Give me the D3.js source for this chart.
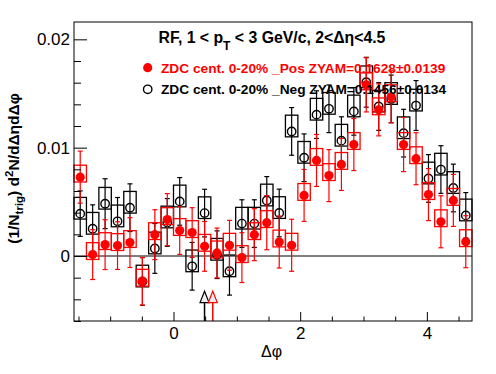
<!DOCTYPE html>
<html>
<head>
<meta charset="utf-8">
<script src="https://cdn.jsdelivr.net/npm/d3@7"></script>
<style>
  body { margin: 0; background: #fff; }
  text { font-family: "Liberation Sans", Arial, sans-serif; }
</style>
</head>
<body>
<div id="chart-area"></div>
<script>
let width = 496,
    height = 374;

const margin = ({top: 22, right: 24, bottom: 53, left: 74});

// Δφ bins: 32 bins over [-π/2, 3π/2]
const nBins = 32;
// red: ZDC cent. 0-20% _Pos
const posVal = [0.00728, 0.00013, 0.00105, 0.00096, 0.00124, -0.00233, 0.00197, 0.00336,
                0.00235, 0.00216, 0.00089, 0.00028, 0.00099, -0.00015, 0.00197, 0.00308,
                0.00129, 0.00099, 0.00559, 0.00882, 0.00742, 0.00845, 0.01029, 0.01580,
                0.01349, 0.01470, 0.01029, 0.00898, 0.00567, 0.00316, 0.00513, 0.00132];
const posErr = [0.0024, 0.0023, 0.0023, 0.0022, 0.0023, 0.0022, 0.0023, 0.0024,
                0.0022, 0.0023, 0.0023, 0.0023, 0.0023, 0.0023, 0.0024, 0.0025,
                0.0024, 0.0024, 0.0024, 0.0024, 0.0024, 0.0024, 0.0024, 0.0025,
                0.0024, 0.0024, 0.0025, 0.0024, 0.0024, 0.0024, 0.0024, 0.0024];
// black: ZDC cent. 0-20% _Neg
const negVal = [0.00391, 0.00252, 0.00483, 0.00320, 0.00446, -0.00235, 0.00070, 0.00310,
                0.00504, -0.00095, 0.00396, 0.00012, -0.00141, 0.00299, 0.00299, 0.00513,
                0.00397, 0.01150, 0.00907, 0.01305, 0.01359, 0.01065, 0.01335, 0.01604,
                0.01380, 0.01450, 0.01134, 0.01389, 0.00716, 0.00798, 0.00628, 0.00375];
const negErr = [0.0021, 0.0022, 0.0023, 0.0022, 0.0022, 0.0022, 0.0023, 0.0022,
                0.0022, 0.0022, 0.0022, 0.0022, 0.0022, 0.0022, 0.0022, 0.0022,
                0.0022, 0.0022, 0.0022, 0.0022, 0.0022, 0.0022, 0.0022, 0.0023,
                0.0022, 0.0022, 0.0022, 0.0023, 0.0022, 0.0022, 0.0022, 0.0021];
// systematic boxes (up / down from point)
const posSys = [0.00110, 0.00045];
const negSys = [0.00150, 0.00050];

// arrows near the bottom (Δφ positions)
const arrowX = [0.49, 0.62];
const arrowColor = ["black", "red"];
const arrowTip = -0.00325, arrowBase = -0.0043;

const xMajor = [0, 2, 4];
const xMinor = [-1.5, -1, -0.5, 0.5, 1, 1.5, 2.5, 3, 3.5, 4.5];
const yMajor = [0, 0.01, 0.02];
const yTickLabels = ["0", "0.01", "0.02"];
const yMinor = [-0.006, -0.004, -0.002, 0.002, 0.004, 0.006, 0.008, 0.012, 0.014, 0.016, 0.018];

const svg = d3.select("#chart-area")
  .append("svg")
  .attr("width", width)
  .attr("height", height);

svg.append("rect").attr("width", width).attr("height", height).attr("fill", "white");

let x = d3.scaleLinear()
    .domain([-Math.PI / 2, 3 * Math.PI / 2])
    .range([margin.left, width - margin.right]);
let y = d3.scaleLinear()
    .domain([-0.006, 0.0216])
    .range([height - margin.bottom, margin.top]);

const binW = 2 * Math.PI / nBins;
const edge = i => -Math.PI / 2 + i * binW;
const center = i => edge(i) + binW / 2;

// zero line
svg.append("line")
  .attr("x1", x.range()[0]).attr("x2", x.range()[1])
  .attr("y1", y(0)).attr("y2", y(0))
  .attr("stroke", "black").attr("stroke-width", 1);

function drawSeries(vals, errs, sys, color, filled) {
  const g = svg.append("g");
  const d = vals.map((v, i) => ({i, v, e: errs[i]}));
  // boxes
  g.selectAll("rect").data(d).enter().append("rect")
    .attr("x", p => x(edge(p.i)))
    .attr("width", p => x(edge(p.i + 1)) - x(edge(p.i)))
    .attr("y", p => y(p.v + sys[0]))
    .attr("height", p => y(p.v - sys[1]) - y(p.v + sys[0]))
    .attr("fill", "none")
    .attr("stroke", color)
    .attr("stroke-width", 1.3);
  // error bars
  g.selectAll("line.err").data(d).enter().append("line")
    .attr("class", "err")
    .attr("x1", p => x(center(p.i))).attr("x2", p => x(center(p.i)))
    .attr("y1", p => y(p.v - p.e)).attr("y2", p => y(p.v + p.e))
    .attr("stroke", color).attr("stroke-width", 1.2);
  [1, -1].forEach(s => {
    g.selectAll("line.cap" + s).data(d).enter().append("line")
      .attr("x1", p => x(center(p.i)) - 2.5).attr("x2", p => x(center(p.i)) + 2.5)
      .attr("y1", p => y(p.v + s * p.e)).attr("y2", p => y(p.v + s * p.e))
      .attr("stroke", color).attr("stroke-width", 1.2);
  });
  // markers
  g.selectAll("circle").data(d).enter().append("circle")
    .attr("cx", p => x(center(p.i)))
    .attr("cy", p => y(p.v))
    .attr("r", filled ? 4.6 : 4.2)
    .attr("fill", filled ? color : "none")
    .attr("stroke", color)
    .attr("stroke-width", filled ? 0 : 1.4);
}

drawSeries(negVal, negErr, negSys, "black", false);
drawSeries(posVal, posErr, posSys, "red", true);

// arrows
arrowX.forEach((a, k) => {
  const cx = x(a);
  svg.append("line")
    .attr("x1", cx).attr("x2", cx)
    .attr("y1", y.range()[0]).attr("y2", y(arrowBase))
    .attr("stroke", arrowColor[k]).attr("stroke-width", 1.5);
  svg.append("path")
    .attr("d", `M${cx},${y(arrowTip)}L${cx - 4.5},${y(arrowBase)}L${cx + 4.5},${y(arrowBase)}Z`)
    .attr("fill", "#eeeeee")
    .attr("stroke", arrowColor[k]).attr("stroke-width", 1.2);
});

// frame
svg.append("rect")
  .attr("x", margin.left).attr("y", margin.top)
  .attr("width", width - margin.left - margin.right)
  .attr("height", height - margin.top - margin.bottom)
  .attr("fill", "none").attr("stroke", "black").attr("stroke-width", 1);

// axes
const yAxis = svg.append("g")
  .attr("transform", `translate(${margin.left},0)`)
  .call(d3.axisLeft(y).tickValues(yMajor).tickSize(-13).tickPadding(4)
        .tickFormat((d, i) => yTickLabels[i]))
  .call(g => g.select(".domain").remove());
svg.append("g")
  .attr("transform", `translate(${margin.left},0)`)
  .call(d3.axisLeft(y).tickValues(yMinor).tickSize(-7).tickFormat(""))
  .call(g => g.select(".domain").remove());

const xAxis = svg.append("g")
  .attr("transform", `translate(0,${height - margin.bottom})`)
  .call(d3.axisBottom(x).tickValues(xMajor).tickSize(-9).tickPadding(6)
        .tickFormat(d3.format("d")))
  .call(g => g.select(".domain").remove());
svg.append("g")
  .attr("transform", `translate(0,${height - margin.bottom})`)
  .call(d3.axisBottom(x).tickValues(xMinor).tickSize(-4.5).tickFormat(""))
  .call(g => g.select(".domain").remove());

svg.selectAll(".tick line").attr("stroke", "black");
yAxis.selectAll("text").attr("font-size", 17).attr("font-family", "Liberation Sans, Arial, sans-serif")
  .attr("fill", "black");
xAxis.selectAll("text").attr("font-size", 17).attr("font-family", "Liberation Sans, Arial, sans-serif")
  .attr("fill", "black");

// x title
svg.append("text")
  .attr("x", 271.5).attr("y", 357)
  .attr("text-anchor", "middle")
  .attr("font-size", 16)
  .text("Δφ");

// y title
const yt = svg.append("text")
  .attr("transform", "translate(18.5,168.5) rotate(-90)")
  .attr("text-anchor", "middle")
  .attr("font-size", 15.5)
  .attr("font-weight", "bold");
yt.append("tspan").text("(1/N");
yt.append("tspan").attr("font-size", 11.5).attr("dy", 4).text("trig");
yt.append("tspan").attr("dy", -4).text(") d");
yt.append("tspan").attr("font-size", 11.5).attr("dy", -6).text("2");
yt.append("tspan").attr("dy", 6).text("N/dΔηdΔφ");

// title
const tt = svg.append("text")
  .attr("x", 272).attr("y", 42.5)
  .attr("text-anchor", "middle")
  .attr("font-size", 15.8)
  .attr("font-weight", "bold");
tt.append("tspan").text("RF, 1 < p");
tt.append("tspan").attr("font-size", 12).attr("dy", 7).text("T");
tt.append("tspan").attr("dy", -7).text(" < 3 GeV/c, 2<Δη<4.5");

// legend
const legend = [
  {label: "ZDC cent. 0-20% _Pos ZYAM=0.1628±0.0139", color: "red", filled: true, y: 67.7},
  {label: "ZDC cent. 0-20% _Neg ZYAM=0.1456±0.0134", color: "black", filled: false, y: 89.3}
];
legend.forEach(l => {
  svg.append("circle")
    .attr("cx", 147.7).attr("cy", l.y)
    .attr("r", l.filled ? 4.6 : 4.2)
    .attr("fill", l.filled ? l.color : "none")
    .attr("stroke", l.color)
    .attr("stroke-width", l.filled ? 0 : 1.4);
  svg.append("text")
    .attr("x", 161).attr("y", l.y + 5)
    .attr("font-size", 13.7)
    .attr("font-weight", "bold")
    .attr("fill", l.color)
    .text(l.label);
});
</script>
</body>
</html>
